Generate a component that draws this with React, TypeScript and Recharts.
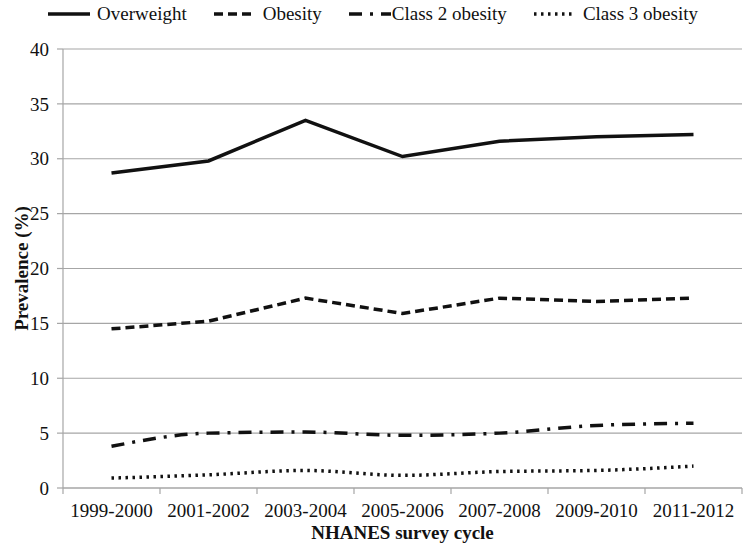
import React from "react";
import {
  LineChart,
  Line,
  XAxis,
  YAxis,
  CartesianGrid,
} from "recharts";

const CYCLES = ["1999-2000", "2001-2002", "2003-2004", "2005-2006", "2007-2008", "2009-2010", "2011-2012"];
const OVERWEIGHT = [28.7, 29.8, 33.5, 30.2, 31.6, 32.0, 32.2];
const OBESITY = [14.5, 15.2, 17.3, 15.9, 17.3, 17.0, 17.3];
const CLASS2 = [3.8, 5.0, 5.1, 4.8, 5.0, 5.7, 5.9];
const CLASS3 = [0.9, 1.2, 1.6, 1.15, 1.5, 1.6, 2.0];
const Y_TICKS = [0, 5, 10, 15, 20, 25, 30, 35, 40];

const SERIES = [
  { key: "overweight", name: "Overweight", dash: undefined as string | undefined, type: "linear" },
  { key: "obesity", name: "Obesity", dash: "9 5", type: "linear" },
  { key: "class2", name: "Class 2 obesity", dash: "13 8 3 8", type: "monotone" },
  { key: "class3", name: "Class 3 obesity", dash: "2.5 4.5", type: "monotone" },
];

const data = CYCLES.map((cycle, i) => ({
  cycle,
  overweight: OVERWEIGHT[i],
  obesity: OBESITY[i],
  class2: CLASS2[i],
  class3: CLASS3[i],
}));

const W = 751;
const H = 555;
const MARGIN = { top: 49, right: 9, bottom: 0, left: 0 };
const Y_WIDTH = 63;
const BAND = (W - MARGIN.left - MARGIN.right - Y_WIDTH) / CYCLES.length;

const FONT = '"Liberation Serif", "Times New Roman", serif';
const GRID = "#a6a6a6";
const INK = "#111";

// category label plus the boundary tick marks Excel draws between categories
function CycleTick(props: any) {
  const { x, y, payload, index } = props;
  const half = BAND / 2;
  return (
    <g>
      <line x1={x - half} y1={y - 16} x2={x - half} y2={y - 10} stroke={GRID} strokeWidth={1.2} />
      {index === CYCLES.length - 1 && (
        <line x1={x + half} y1={y - 16} x2={x + half} y2={y - 10} stroke={GRID} strokeWidth={1.2} />
      )}
      <text x={x} y={y} dy="0.71em" textAnchor="middle" fontFamily={FONT} fontSize={19} fill={INK}>
        {payload.value}
      </text>
    </g>
  );
}

function TopLegend() {
  return (
    <div
      style={{
        position: "absolute",
        top: 2,
        left: 48,
        display: "flex",
        fontFamily: FONT,
        fontSize: 19,
        color: INK,
        whiteSpace: "nowrap",
      }}
    >
      {SERIES.map((s, i) => (
        <div
          key={s.key}
          style={{
            display: "flex",
            alignItems: "center",
            gap: s.key === "class2" ? 1 : 7,
            marginRight: i < SERIES.length - 1 ? 27 : 0,
          }}
        >
          <svg width={42} height={24}>
            <line x1={0} y1={12} x2={42} y2={12} stroke={INK} strokeWidth={3.5} strokeDasharray={s.dash} />
          </svg>
          <span>{s.name}</span>
        </div>
      ))}
    </div>
  );
}

export default function App() {
  return (
    <div style={{ position: "relative", width: W, height: H, background: "#fff" }}>
      <style>{`body{margin:0}`}</style>
      <TopLegend />
      <LineChart width={W} height={H} data={data} margin={MARGIN}>
        <CartesianGrid vertical={false} stroke={GRID} strokeWidth={1.2} />
        <XAxis
          dataKey="cycle"
          scale="band"
          height={67}
          tickLine={false}
          tickSize={0}
          tickMargin={16}
          axisLine={{ stroke: GRID, strokeWidth: 1.2 }}
          tick={<CycleTick />}
          interval={0}
          label={{
            value: "NHANES survey cycle",
            position: "insideBottom",
            offset: 16,
            style: { fontFamily: FONT, fontSize: 19, fontWeight: "bold", fill: INK },
          }}
        />
        <YAxis
          width={Y_WIDTH}
          domain={[0, 40]}
          ticks={Y_TICKS}
          tickSize={6}
          tickMargin={8}
          tickLine={{ stroke: GRID, strokeWidth: 1.2 }}
          axisLine={{ stroke: GRID, strokeWidth: 1.2 }}
          tick={{ fontFamily: FONT, fontSize: 19, fill: INK }}
          label={{
            value: "Prevalence (%)",
            angle: -90,
            position: "insideLeft",
            offset: 21,
            style: { fontFamily: FONT, fontSize: 19, fontWeight: "bold", fill: INK, textAnchor: "middle" },
          }}
        />
        {SERIES.map((s) => (
          <Line
            key={s.key}
            type={s.type as any}
            dataKey={s.key}
            name={s.name}
            stroke={INK}
            strokeWidth={3.5}
            strokeDasharray={s.dash}
            dot={false}
            activeDot={false}
            isAnimationActive={false}
          />
        ))}
      </LineChart>
    </div>
  );
}
